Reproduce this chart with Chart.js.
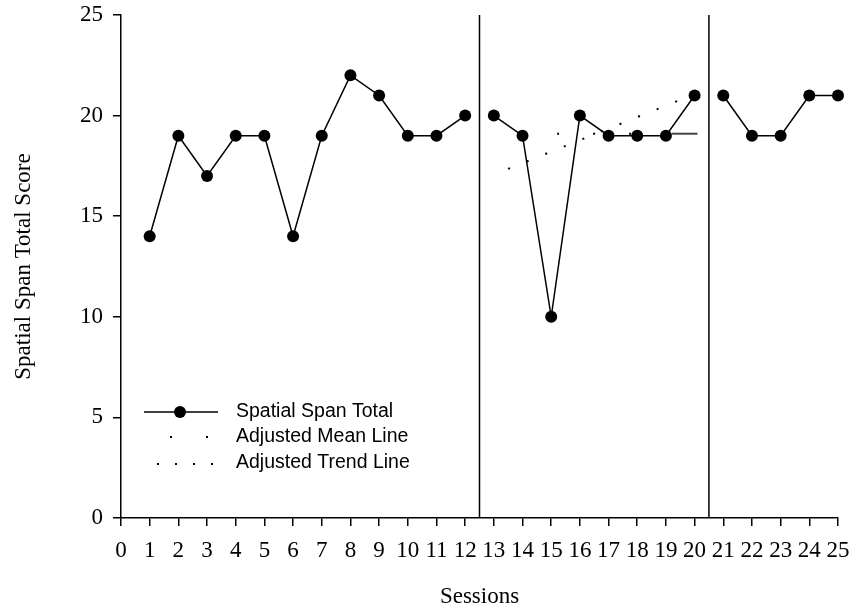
<!DOCTYPE html>
<html>
<head>
<meta charset="utf-8">
<script src="https://cdn.jsdelivr.net/npm/chart.js@4/dist/chart.umd.min.js"></script>
<style>
  html, body { margin: 0; padding: 0; background: #fff; }
  #wrap { width: 855px; height: 611px; }
</style>
</head>
<body>
<div id="wrap"><canvas id="spanChart" width="855" height="611"></canvas></div>
<script>
// sessions and scores, one array per phase
const phase1Sessions = [1, 2, 3, 4, 5, 6, 7, 8, 9, 10, 11, 12];
const phase1Scores = [14, 19, 17, 19, 19, 14, 19, 22, 21, 19, 19, 20];
const phase2Sessions = [13, 14, 15, 16, 17, 18, 19, 20];
const phase2Scores = [20, 19, 10, 20, 19, 19, 19, 21];
const phase3Sessions = [21, 22, 23, 24, 25];
const phase3Scores = [21, 19, 19, 21, 21];

// adjusted lines for phase 2
const meanLineX = [13.95, 19.2, 20.1];
const meanLineY = [19.1, 19.1, 19.1];
const trendLineX = [13.5, 20.0];
const trendLineY = [17.35, 21.07];

// phase change lines
const phaseChanges = [12.5, 20.5];

const xTicks = [0, 25];
const yTicks = [0, 25];

const toPoints = (xs, ys) => xs.map((x, i) => ({ x: x, y: ys[i] }));

const seriesStyle = {
    borderColor: '#000',
    backgroundColor: '#000',
    borderWidth: 1.5,
    pointRadius: 6,
    pointBorderWidth: 0,
    fill: false,
    tension: 0,
    clip: false
};

const datasets = [
    Object.assign({ label: 'Spatial Span Total', data: toPoints(phase1Sessions, phase1Scores) }, seriesStyle),
    Object.assign({ label: 'Spatial Span Total', data: toPoints(phase2Sessions, phase2Scores) }, seriesStyle),
    Object.assign({ label: 'Spatial Span Total', data: toPoints(phase3Sessions, phase3Scores) }, seriesStyle),
    {
        label: 'Adjusted Mean Line',
        data: toPoints(meanLineX, meanLineY),
        borderColor: '#000',
        borderWidth: 2,
        borderDash: [2, 34],
        pointRadius: 0,
        segment: {
            borderDash: ctx => ctx.p0DataIndex === 1 ? [] : [2, 34],
            borderColor: ctx => ctx.p0DataIndex === 1 ? '#444' : '#000'
        }
    },
    {
        label: 'Adjusted Trend Line',
        data: toPoints(trendLineX, trendLineY),
        borderColor: '#000',
        borderWidth: 2,
        borderDash: [2, 18],
        pointRadius: 0
    }
];

phaseChanges.forEach(p => {
    datasets.push({
        label: 'phase',
        data: [{ x: p, y: yTicks[0] }, { x: p, y: yTicks[1] }],
        borderColor: '#000',
        borderWidth: 1.5,
        pointRadius: 0
    });
});

// legend drawn inside the plot, lower left
const innerLegend = {
    id: 'innerLegend',
    afterDatasetsDraw(chart) {
        const ctx = chart.ctx;
        ctx.save();
        ctx.fillStyle = '#000';
        ctx.strokeStyle = '#000';
        ctx.font = '19.5px "Liberation Sans", Arial, sans-serif';
        ctx.textBaseline = 'middle';
        ctx.textAlign = 'left';

        // solid line with marker
        ctx.lineWidth = 1.5;
        ctx.beginPath();
        ctx.moveTo(144, 412);
        ctx.lineTo(218, 412);
        ctx.stroke();
        ctx.beginPath();
        ctx.arc(180, 412, 6, 0, Math.PI * 2);
        ctx.fill();
        ctx.fillText('Spatial Span Total', 236, 412);

        // mean line sample
        [171, 207].forEach(x => ctx.fillRect(x - 1, 436, 2, 2));
        ctx.fillText('Adjusted Mean Line', 236, 437);

        // trend line sample
        [158, 176, 194, 212].forEach(x => ctx.fillRect(x - 1, 463, 2, 2));
        ctx.fillText('Adjusted Trend Line', 236, 463);
        ctx.restore();
    }
};

const serif = '"Liberation Serif", "Times New Roman", serif';

new Chart(document.getElementById('spanChart').getContext('2d'), {
    type: 'line',
    data: { datasets: datasets },
    options: {
        responsive: false,
        animation: false,
        layout: { padding: { top: 15, right: 17, bottom: 0, left: 0 } },
        scales: {
            x: {
                type: 'linear',
                min: xTicks[0],
                max: xTicks[1],
                afterFit: s => { s.height = 93; s.paddingLeft = 0; s.paddingRight = 0; },
                ticks: {
                    stepSize: 1,
                    autoSkip: false,
                    maxRotation: 0,
                    minRotation: 0,
                    padding: 11,
                    color: '#000',
                    font: { family: serif, size: 23 }
                },
                grid: { display: true, drawOnChartArea: false, drawTicks: true, tickLength: 8, color: '#000', lineWidth: 1.5 },
                border: { display: true, color: '#000', width: 1.5 },
                title: {
                    display: true,
                    text: 'Sessions',
                    color: '#000',
                    font: { family: serif, size: 23 },
                    padding: { top: 0, bottom: 0 }
                }
            },
            y: {
                min: yTicks[0],
                max: yTicks[1],
                afterFit: s => { s.width = 121; s.paddingTop = 0; s.paddingBottom = 0; },
                ticks: {
                    stepSize: 5,
                    padding: 10,
                    color: '#000',
                    font: { family: serif, size: 23 }
                },
                grid: { display: true, drawOnChartArea: false, drawTicks: true, tickLength: 8, color: '#000', lineWidth: 1.5 },
                border: { display: true, color: '#000', width: 1.5 },
                title: {
                    display: true,
                    text: 'Spatial Span Total Score',
                    color: '#000',
                    font: { family: serif, size: 23 },
                    padding: { top: 10, bottom: 0 }
                }
            }
        },
        plugins: {
            legend: { display: false },
            tooltip: { enabled: false }
        }
    },
    plugins: [innerLegend]
});
</script>
</body>
</html>
